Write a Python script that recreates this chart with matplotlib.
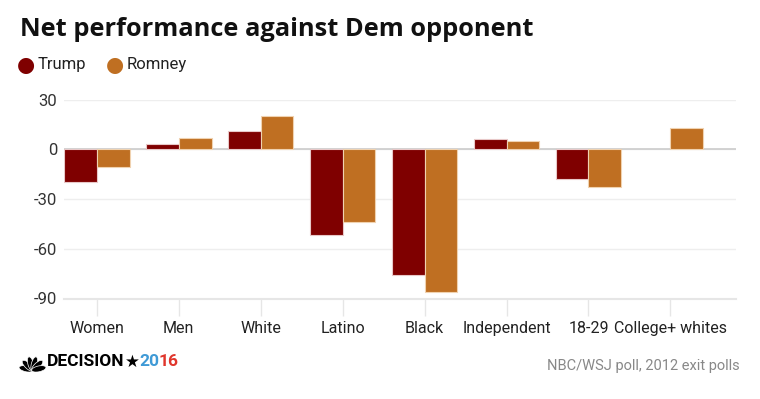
import numpy as np
import matplotlib.pyplot as plt
from matplotlib.patches import Ellipse

# Data (net margin vs Dem opponent)
categories = ["Women", "Men", "White", "Latino", "Black", "Independent", "18-29", "College+ whites"]
trump = [-20, 3, 11, -52, -76, 6, -18, np.nan]
romney = [-11, 7, 20, -44, -86, 5, -23, 13]
yticks = [30, 0, -30, -60, -90]

trump_color = "#7f0000"
romney_color = "#bf6f22"
narrow = ["Liberation Sans Narrow", "Roboto", "DejaVu Sans"]

fig = plt.figure(figsize=(7.6, 3.99), dpi=100)
ax = fig.add_axes([64 / 760, 100.5 / 399, 672 / 760, 199 / 399])

x = np.arange(len(categories))
w = 0.4
ax.bar(x - w / 2, trump, width=w, color=trump_color, edgecolor="#e8c8c8", linewidth=0.8, zorder=3)
ax.bar(x + w / 2, romney, width=w, color=romney_color, edgecolor="#f0d2b0", linewidth=0.8, zorder=3)

ax.set_xlim(-0.40, len(categories) - 1 + 0.80)
ax.set_ylim(-90, 30)
ax.set_yticks(yticks)
ax.set_yticklabels([str(v) for v in yticks], fontfamily=narrow, fontsize=12, color="#333333")
ax.set_xticks(x)
ax.set_xticklabels(categories, fontfamily=narrow, fontsize=11.5, color="#222222")

ax.grid(axis="y", color="#eeeeee", linewidth=1, zorder=0)
ax.axhline(0, color="#cccccc", linewidth=1.2, zorder=2)
for s in ["top", "right", "left"]:
    ax.spines[s].set_visible(False)
ax.spines["bottom"].set_color("#e6e6e6")
ax.spines["bottom"].set_linewidth(1.5)
ax.tick_params(axis="x", length=12, color="#e6e6e6", width=1, pad=4)
ax.tick_params(axis="y", length=0, pad=5)

# Title and legend
fig.text(20 / 760, 1 - 29 / 399, "Net performance against Dem opponent",
         fontfamily=["Open Sans", "DejaVu Sans"], fontweight="bold", fontsize=18.3,
         color="#111111", va="center", ha="left")
fig.text(17 / 760, 1 - 65 / 399, "\u25CF", color=trump_color, fontsize=15, va="center", ha="left")
fig.text(38 / 760, 1 - 65 / 399, "Trump", fontfamily=narrow, fontsize=12, color="#222222", va="center")
fig.text(106 / 760, 1 - 65 / 399, "\u25CF", color=romney_color, fontsize=15, va="center", ha="left")
fig.text(127 / 760, 1 - 65 / 399, "Romney", fontfamily=narrow, fontsize=12, color="#222222", va="center")

# Footer
fig.text(740 / 760, 1 - 366 / 399, "NBC/WSJ poll, 2012 exit polls", fontfamily=narrow,
         fontsize=10.5, color="#888888", ha="right", va="center")

# peacock logo (approximate)
pax = fig.add_axes([19 / 760, 1 - 372 / 399, 27 / 760, 21 / 399])
pax.set_xlim(-1.3, 1.3)
pax.set_ylim(-0.05, 1.95)
pax.axis("off")
for ang in np.linspace(-78, 78, 6):
    e = Ellipse((np.sin(np.radians(ang)) * 0.62, 0.12 + np.cos(np.radians(ang)) * 0.62),
                0.55, 1.4, angle=-ang, color="black", ec="white", lw=0.5)
    pax.add_patch(e)

# DECISION * 2016 wordmark, laid out piece by piece
fig.canvas.draw()
renderer = fig.canvas.get_renderer()
cond_bold = dict(fontfamily=narrow, fontweight="bold", fontsize=12.5, va="center")
xpos = 47
for txt, col, extra, gap in [("DECISION", "black", {}, 0),
                             ("\u2605", "black", {"fontfamily": ["DejaVu Sans"], "fontsize": 12}, 0),
                             ("20", "#3f9ad6", {}, -1),
                             ("16", "#e0362c", {}, 0)]:
    kw = dict(cond_bold)
    kw.update(extra)
    t = fig.text(xpos / 760, 1 - 362 / 399, txt, color=col, **kw)
    bb = t.get_window_extent(renderer)
    xpos += bb.width + gap

fig.savefig("out.png", dpi=100, facecolor="white")
